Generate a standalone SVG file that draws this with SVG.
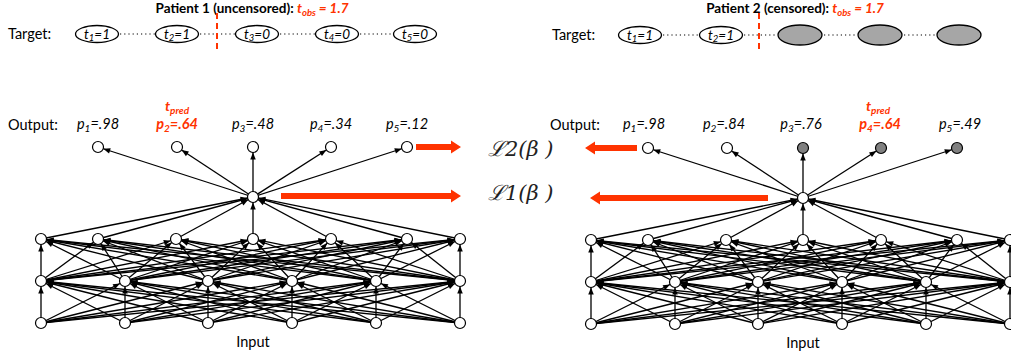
<svg xmlns="http://www.w3.org/2000/svg" xmlns:xlink="http://www.w3.org/1999/xlink" width="1011" height="355" viewBox="0 0 1011 355">
<style>
text{font-family:Lato,"Liberation Sans",sans-serif;fill:#000}
.lbl{font-size:14.5px}
.ttl{font-size:13.5px;font-weight:bold}
.red{fill:#FF3300;font-weight:bold;font-style:italic}
.it{font-style:italic;font-size:14.5px}
.et{font-style:italic;font-size:13.5px}
.ell{fill:#fff;stroke:#000;stroke-width:1.3}
.gell{fill:#A6A6A6;stroke:#000;stroke-width:1.3}
.dot{stroke:#000;stroke-width:1.2;stroke-dasharray:1.2,3}
.cut{stroke:#FF3300;stroke-width:2;stroke-dasharray:6,4}
.c line{stroke:#000;stroke-width:1.3;marker-end:url(#ah)}
.n{fill:#fff;stroke:#000;stroke-width:1.2}
.g{fill:#808080;stroke:#000;stroke-width:1.2}
.ra{fill:#FF3300}
.loss{font-family:"DejaVu Serif","Liberation Serif",serif;font-style:italic;font-size:21px;fill:#222}
</style>
<defs>
<marker id="ah" markerUnits="userSpaceOnUse" markerWidth="13" markerHeight="6" refX="12.5" refY="2.75" orient="auto" overflow="visible">
<path d="M0,0 L7,2.75 L0,5.5 z" fill="#000"/>
</marker>
<g id="net" class="c">
<!-- input -> hidden1 -->
<line x1="41" y1="323" x2="41" y2="281"/><line x1="41" y1="323" x2="125" y2="281"/><line x1="41" y1="323" x2="208" y2="281"/><line x1="41" y1="323" x2="292" y2="281"/><line x1="41" y1="323" x2="376" y2="281"/><line x1="41" y1="323" x2="460" y2="281"/>
<line x1="125" y1="323" x2="41" y2="281"/><line x1="125" y1="323" x2="125" y2="281"/><line x1="125" y1="323" x2="208" y2="281"/><line x1="125" y1="323" x2="292" y2="281"/><line x1="125" y1="323" x2="376" y2="281"/><line x1="125" y1="323" x2="460" y2="281"/>
<line x1="208" y1="323" x2="41" y2="281"/><line x1="208" y1="323" x2="125" y2="281"/><line x1="208" y1="323" x2="208" y2="281"/><line x1="208" y1="323" x2="292" y2="281"/><line x1="208" y1="323" x2="376" y2="281"/><line x1="208" y1="323" x2="460" y2="281"/>
<line x1="292" y1="323" x2="41" y2="281"/><line x1="292" y1="323" x2="125" y2="281"/><line x1="292" y1="323" x2="208" y2="281"/><line x1="292" y1="323" x2="292" y2="281"/><line x1="292" y1="323" x2="376" y2="281"/><line x1="292" y1="323" x2="460" y2="281"/>
<line x1="376" y1="323" x2="41" y2="281"/><line x1="376" y1="323" x2="125" y2="281"/><line x1="376" y1="323" x2="208" y2="281"/><line x1="376" y1="323" x2="292" y2="281"/><line x1="376" y1="323" x2="376" y2="281"/><line x1="376" y1="323" x2="460" y2="281"/>
<line x1="460" y1="323" x2="41" y2="281"/><line x1="460" y1="323" x2="125" y2="281"/><line x1="460" y1="323" x2="208" y2="281"/><line x1="460" y1="323" x2="292" y2="281"/><line x1="460" y1="323" x2="376" y2="281"/><line x1="460" y1="323" x2="460" y2="281"/>
<!-- hidden1 -> hidden2 -->
<line x1="41" y1="281" x2="41" y2="239"/><line x1="41" y1="281" x2="98" y2="239"/><line x1="41" y1="281" x2="176" y2="239"/><line x1="41" y1="281" x2="253" y2="239"/><line x1="41" y1="281" x2="331" y2="239"/><line x1="41" y1="281" x2="407" y2="239"/><line x1="41" y1="281" x2="460" y2="239"/>
<line x1="125" y1="281" x2="41" y2="239"/><line x1="125" y1="281" x2="98" y2="239"/><line x1="125" y1="281" x2="176" y2="239"/><line x1="125" y1="281" x2="253" y2="239"/><line x1="125" y1="281" x2="331" y2="239"/><line x1="125" y1="281" x2="407" y2="239"/><line x1="125" y1="281" x2="460" y2="239"/>
<line x1="208" y1="281" x2="41" y2="239"/><line x1="208" y1="281" x2="98" y2="239"/><line x1="208" y1="281" x2="176" y2="239"/><line x1="208" y1="281" x2="253" y2="239"/><line x1="208" y1="281" x2="331" y2="239"/><line x1="208" y1="281" x2="407" y2="239"/><line x1="208" y1="281" x2="460" y2="239"/>
<line x1="292" y1="281" x2="41" y2="239"/><line x1="292" y1="281" x2="98" y2="239"/><line x1="292" y1="281" x2="176" y2="239"/><line x1="292" y1="281" x2="253" y2="239"/><line x1="292" y1="281" x2="331" y2="239"/><line x1="292" y1="281" x2="407" y2="239"/><line x1="292" y1="281" x2="460" y2="239"/>
<line x1="376" y1="281" x2="41" y2="239"/><line x1="376" y1="281" x2="98" y2="239"/><line x1="376" y1="281" x2="176" y2="239"/><line x1="376" y1="281" x2="253" y2="239"/><line x1="376" y1="281" x2="331" y2="239"/><line x1="376" y1="281" x2="407" y2="239"/><line x1="376" y1="281" x2="460" y2="239"/>
<line x1="460" y1="281" x2="41" y2="239"/><line x1="460" y1="281" x2="98" y2="239"/><line x1="460" y1="281" x2="176" y2="239"/><line x1="460" y1="281" x2="253" y2="239"/><line x1="460" y1="281" x2="331" y2="239"/><line x1="460" y1="281" x2="407" y2="239"/><line x1="460" y1="281" x2="460" y2="239"/>
<!-- hidden2 -> top -->
<line x1="41" y1="239" x2="253" y2="197"/><line x1="98" y1="239" x2="253" y2="197"/><line x1="176" y1="239" x2="253" y2="197"/><line x1="253" y1="239" x2="253" y2="197"/><line x1="331" y1="239" x2="253" y2="197"/><line x1="407" y1="239" x2="253" y2="197"/><line x1="460" y1="239" x2="253" y2="197"/>
<!-- top -> outputs -->
<line x1="253" y1="197" x2="98" y2="147"/><line x1="253" y1="197" x2="177" y2="147"/><line x1="253" y1="197" x2="253" y2="147"/><line x1="253" y1="197" x2="331" y2="147"/><line x1="253" y1="197" x2="407" y2="147"/>
</g>
<g id="hid">
<circle class="n" cx="41" cy="323" r="5.5"/><circle class="n" cx="125" cy="323" r="5.5"/><circle class="n" cx="208" cy="323" r="5.5"/><circle class="n" cx="292" cy="323" r="5.5"/><circle class="n" cx="376" cy="323" r="5.5"/><circle class="n" cx="460" cy="323" r="5.5"/>
<circle class="n" cx="41" cy="281" r="5.5"/><circle class="n" cx="125" cy="281" r="5.5"/><circle class="n" cx="208" cy="281" r="5.5"/><circle class="n" cx="292" cy="281" r="5.5"/><circle class="n" cx="376" cy="281" r="5.5"/><circle class="n" cx="460" cy="281" r="5.5"/>
<circle class="n" cx="41" cy="239" r="5.5"/><circle class="n" cx="98" cy="239" r="5.5"/><circle class="n" cx="176" cy="239" r="5.5"/><circle class="n" cx="253" cy="239" r="5.5"/><circle class="n" cx="331" cy="239" r="5.5"/><circle class="n" cx="407" cy="239" r="5.5"/><circle class="n" cx="460" cy="239" r="5.5"/>
<circle class="n" cx="253" cy="197" r="5.5"/>
</g>
</defs>

<!-- Patient 1 target row -->
<g id="p1-target">
<text class="ttl" x="252" y="13" text-anchor="middle">Patient 1 (uncensored): <tspan class="red">t<tspan dy="3" font-size="9.5">obs</tspan><tspan dy="-3"> = 1.7</tspan></tspan></text>
<text class="lbl" x="8" y="39">Target:</text>
<line class="dot" x1="120" y1="34" x2="155" y2="34"/><line class="dot" x1="200" y1="34" x2="235" y2="34"/><line class="dot" x1="280" y1="34" x2="315" y2="34"/><line class="dot" x1="360" y1="34" x2="393" y2="34"/>
<g id="p1-t1"><ellipse class="ell" cx="97" cy="34" rx="21.5" ry="8.5"/><text class="et" x="97" y="38.5" text-anchor="middle">t<tspan dy="2.5" font-size="9.5">1</tspan><tspan dy="-2.5">=1</tspan></text></g>
<g id="p1-t2"><ellipse class="ell" cx="177" cy="34" rx="21.5" ry="8.5"/><text class="et" x="177" y="38.5" text-anchor="middle">t<tspan dy="2.5" font-size="9.5">2</tspan><tspan dy="-2.5">=1</tspan></text></g>
<g id="p1-t3"><ellipse class="ell" cx="257" cy="34" rx="21.5" ry="8.5"/><text class="et" x="257" y="38.5" text-anchor="middle">t<tspan dy="2.5" font-size="9.5">3</tspan><tspan dy="-2.5">=0</tspan></text></g>
<g id="p1-t4"><ellipse class="ell" cx="337" cy="34" rx="21.5" ry="8.5"/><text class="et" x="337" y="38.5" text-anchor="middle">t<tspan dy="2.5" font-size="9.5">4</tspan><tspan dy="-2.5">=0</tspan></text></g>
<g id="p1-t5"><ellipse class="ell" cx="415" cy="34" rx="21.5" ry="8.5"/><text class="et" x="415" y="38.5" text-anchor="middle">t<tspan dy="2.5" font-size="9.5">5</tspan><tspan dy="-2.5">=0</tspan></text></g>
<line class="cut" x1="217" y1="13" x2="217" y2="51"/>
</g>

<!-- Patient 2 target row -->
<g id="p2-target">
<text class="ttl" x="795" y="13" text-anchor="middle">Patient 2 (censored): <tspan class="red">t<tspan dy="3" font-size="9.5">obs</tspan><tspan dy="-3"> = 1.7</tspan></tspan></text>
<text class="lbl" x="552" y="40">Target:</text>
<line class="dot" x1="663" y1="35" x2="699" y2="35"/><line class="dot" x1="744" y1="35" x2="777" y2="35"/><line class="dot" x1="824" y1="35" x2="857" y2="35"/><line class="dot" x1="904" y1="35" x2="936" y2="35"/>
<g id="p2-t1"><ellipse class="ell" cx="640" cy="35" rx="21.5" ry="8.5"/><text class="et" x="640" y="39.5" text-anchor="middle">t<tspan dy="2.5" font-size="9.5">1</tspan><tspan dy="-2.5">=1</tspan></text></g>
<g id="p2-t2"><ellipse class="ell" cx="721" cy="35" rx="21.5" ry="8.5"/><text class="et" x="721" y="39.5" text-anchor="middle">t<tspan dy="2.5" font-size="9.5">2</tspan><tspan dy="-2.5">=1</tspan></text></g>
<g id="p2-t3"><ellipse class="gell" cx="800" cy="35" rx="22" ry="10"/></g>
<g id="p2-t4"><ellipse class="gell" cx="880" cy="35" rx="22" ry="10"/></g>
<g id="p2-t5"><ellipse class="gell" cx="959" cy="35" rx="22" ry="10"/></g>
<line class="cut" x1="759" y1="13" x2="759" y2="51"/>
</g>

<!-- connectors -->
<g id="connectors">
<use xlink:href="#net"/>
<use xlink:href="#net" transform="translate(550,1)"/>
</g>

<!-- network 1 nodes -->
<g id="net1-nodes">
<use xlink:href="#hid"/>
<circle class="n" cx="98" cy="147" r="5.5"/><circle class="n" cx="177" cy="147" r="5.5"/><circle class="n" cx="253" cy="147" r="5.5"/><circle class="n" cx="331" cy="147" r="5.5"/><circle class="n" cx="407" cy="147" r="5.5"/>
</g>
<!-- network 2 nodes -->
<g id="net2-nodes">
<use xlink:href="#hid" transform="translate(550,1)"/>
<circle class="n" cx="648" cy="148" r="5.5"/><circle class="n" cx="727" cy="148" r="5.5"/><circle class="g" cx="803" cy="148" r="5.5"/><circle class="g" cx="881" cy="148" r="5.5"/><circle class="g" cx="957" cy="148" r="5.5"/>
</g>

<!-- output labels 1 -->
<g id="out1-labels">
<text class="lbl" x="8" y="130">Output:</text>
<text class="it" x="98" y="129" text-anchor="middle">p<tspan dy="3" font-size="10">1</tspan><tspan dy="-3">=.98</tspan></text>
<text class="red" x="177" y="111" text-anchor="middle" font-size="14">t<tspan dy="3" font-size="10">pred</tspan></text>
<text class="red" x="177" y="129" text-anchor="middle" font-size="14.5">p<tspan dy="3" font-size="10">2</tspan><tspan dy="-3">=.64</tspan></text>
<text class="it" x="253" y="129" text-anchor="middle">p<tspan dy="3" font-size="10">3</tspan><tspan dy="-3">=.48</tspan></text>
<text class="it" x="331" y="129" text-anchor="middle">p<tspan dy="3" font-size="10">4</tspan><tspan dy="-3">=.34</tspan></text>
<text class="it" x="407" y="129" text-anchor="middle">p<tspan dy="3" font-size="10">5</tspan><tspan dy="-3">=.12</tspan></text>
<text class="lbl" x="253" y="347" text-anchor="middle">Input</text>
</g>
<!-- output labels 2 -->
<g id="out2-labels">
<text class="lbl" x="550" y="130">Output:</text>
<text class="it" x="644" y="129" text-anchor="middle">p<tspan dy="3" font-size="10">1</tspan><tspan dy="-3">=.98</tspan></text>
<text class="it" x="724" y="129" text-anchor="middle">p<tspan dy="3" font-size="10">2</tspan><tspan dy="-3">=.84</tspan></text>
<text class="it" x="801" y="129" text-anchor="middle">p<tspan dy="3" font-size="10">3</tspan><tspan dy="-3">=.76</tspan></text>
<text class="red" x="878" y="111" text-anchor="middle" font-size="14">t<tspan dy="3" font-size="10">pred</tspan></text>
<text class="red" x="880" y="129" text-anchor="middle" font-size="14.5">p<tspan dy="3" font-size="10">4</tspan><tspan dy="-3">=.64</tspan></text>
<text class="it" x="960" y="129" text-anchor="middle">p<tspan dy="3" font-size="10">5</tspan><tspan dy="-3">=.49</tspan></text>
<text class="lbl" x="803" y="348" text-anchor="middle">Input</text>
</g>

<!-- red loss arrows -->
<g id="loss-arrows">
<polygon class="ra" points="416,144 451,144 451,140.5 461,147 451,153.5 451,150 416,150"/>
<polygon class="ra" points="281,193 451,193 451,189.5 461,196 451,202.5 451,199 281,199"/>
<polygon class="ra" points="637,145 595,145 595,141.5 585,148 595,154.5 595,151 637,151"/>
<polygon class="ra" points="768,195 600,195 600,191.5 590,198 600,204.5 600,201 768,201"/>
</g>
<g id="loss-labels">
<text class="loss" x="488" y="156">ℒ2(β )</text>
<text class="loss" x="488" y="200">ℒ1(β )</text>
</g>
</svg>
